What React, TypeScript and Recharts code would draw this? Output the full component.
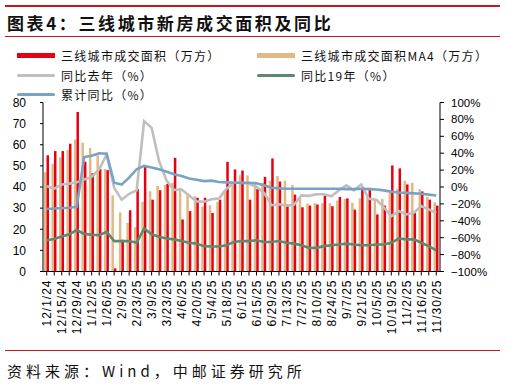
import React from "react";
import { ComposedChart, Bar, Line, XAxis, YAxis } from "recharts";

// weekly dates, 12/1/24 .. 11/30/25
const weeks = [
  "12/1/24", "12/8/24", "12/15/24", "12/22/24", "12/29/24", "1/5/25", "1/12/25", "1/19/25", "1/26/25",
  "2/2/25", "2/9/25", "2/16/25", "2/23/25", "3/2/25", "3/9/25", "3/16/25", "3/23/25", "3/30/25",
  "4/6/25", "4/13/25", "4/20/25", "4/27/25", "5/4/25", "5/11/25", "5/18/25", "5/25/25",
  "6/1/25", "6/8/25", "6/15/25", "6/22/25", "6/29/25", "7/6/25", "7/13/25", "7/20/25", "7/27/25",
  "8/3/25", "8/10/25", "8/17/25", "8/24/25", "8/31/25", "9/7/25", "9/14/25", "9/21/25", "9/28/25",
  "10/5/25", "10/12/25", "10/19/25", "10/26/25", "11/2/25", "11/9/25", "11/16/25", "11/23/25", "11/30/25",
];

// 三线城市成交面积（万方）
const area = [
  55, 57, 57, 60.5, 75.5, 52, 46.5, 48.5, 48, 1.5, 15, 29, 39, 49.5, 34, 38.5, 41.5, 53.8,
  24.6, 28.6, 34.9, 34.9, 27.7, 34, 51.9, 48.3, 47.8, 34, 39, 44.8, 53.5, 42.6, 31.7, 36.4,
  30.4, 31.2, 31.7, 35.9, 30.9, 35.3, 34.6, 29.3, 39, 39.6, 27, 31.2, 50.2, 48.8, 41.2, 27.7,
  37.9, 34, 31.2,
];

// 三线城市成交面积MA4（万方）
const areaMa4 = [
  47, 51, 54, 57.5, 62.5, 61, 58.5, 55, 48.5, 36, 28, 23, 21, 33, 38, 40.5, 41, 42,
  39.6, 37, 35.6, 30.7, 31.4, 33, 37.5, 41.5, 45.6, 45.5, 42.5, 42, 43, 45.2, 43, 41,
  34.8, 32.2, 32.3, 32.4, 32.4, 33.6, 34.4, 32.5, 34.7, 36, 34, 34.3, 37.5, 39, 43, 42,
  39, 35.3, 32.8,
];

// 同比去年（%）
const yoy = [
  1, -2, 3, 4, 5.5, 9, 12, 21, 38.5, -1, -15, -8, -4, 78, 70, 30.5, 7.5, -3.5,
  -3, -10, -17, -17.5, -14.5, -13.5, -2, 5, 5, 3.5, 0.5, -7, -21.5, -20.5, -22, -21,
  -10, -10.5, -8.5, -8.5, -11, -4, 2, -4, 3, -14, -15, -24, -34.5, -28.5, -32.5, -30.5,
  -22.5, -26.5, -30.5,
];

// 同比19年（%）
const vs2019 = [
  -63, -61.5, -58.5, -56, -51, -55.5, -56.5, -57, -53, -64, -64, -64, -66, -49, -56, -59, -61, -62,
  -64, -66, -67, -70, -70.5, -70.5, -69, -65, -64, -64, -63, -65, -65, -64, -66, -67,
  -69, -72, -72, -70, -69, -68, -67, -68, -69, -69, -68, -68, -66, -61, -62, -62,
  -66, -70, -75,
];

// 累计同比（%）
const cumYoy = [
  -26, -25.5, -25, -24.5, -23.5, 35.5, 37, 40, 39.5, 5, 3, 11, 21, 25, 23, 21, 18, 15,
  13, 10, 8.5, 7, 7.5, 6, 5.5, 5, 5, 5, 4.5, 2, -1, -1.5, -2, -2,
  -2, -2, -2, -2, -2, -2, -2.5, -2.5, -2, -2.5, -3, -4, -5.5, -6.5, -7, -7.5,
  -8, -9, -10,
];

const leftTicks = [0, 10, 20, 30, 40, 50, 60, 70, 80];
const rightTicks = [-100, -80, -60, -40, -20, 0, 20, 40, 60, 80, 100];

const data = weeks.map((w, i) => ({
  week: w,
  area: area[i],
  ma4: areaMa4[i],
  yoy: yoy[i],
  vs2019: vs2019[i],
  cum: cumYoy[i],
}));

const RED = "#e60012";
const TAN = "#e1b985";
const GREY = "#bfbfbf";
const GREEN = "#5b8a70";
const BLUE = "#79a3c4";
const LINE_RED = "#c8161d";

const axisFont = "'Liberation Sans', Arial, sans-serif";
const cjkFont = "'Noto Sans CJK SC', 'Noto Sans', sans-serif";

const XTick = (props: any) => {
  const { x, y, payload } = props;
  if (payload.index % 2 !== 0) return null;
  return (
    <text
      transform={`translate(${x + 4.5},${y + 2}) rotate(-90)`}
      textAnchor="end"
      fontSize={12}
      fontFamily={axisFont}
      letterSpacing={1}
      fill="#000"
    >
      {payload.value}
    </text>
  );
};

const pct = (v: number) => (v < 0 ? "\u2212" + Math.abs(v) : String(v)) + "%";

const LegendItem = ({ color, thick, label, left, top }: any) => (
  <div style={{ position: "absolute", left, top, display: "flex", alignItems: "center", height: 16 }}>
    <div style={{ width: 38, height: thick, background: color, borderRadius: thick < 5 ? 2 : 0 }} />
    <span style={{ marginLeft: 6, fontSize: 12, letterSpacing: 1.3, fontFamily: cjkFont, color: "#111", whiteSpace: "nowrap" }}>
      {label}
    </span>
  </div>
);

export default function App() {
  return (
    <div style={{ position: "absolute", left: 0, top: 0, width: 506, height: 385, background: "#fff", overflow: "hidden" }}>
      <div style={{ position: "absolute", left: 5, top: 5, width: 495, height: 2, background: LINE_RED }} />
      <div
        style={{
          position: "absolute", left: 7, top: 11, fontSize: 17, fontWeight: 700, letterSpacing: 2.6,
          fontFamily: cjkFont, color: "#111", whiteSpace: "nowrap", lineHeight: "24px",
        }}
      >
        图表4：三线城市新房成交面积及同比
      </div>
      <div style={{ position: "absolute", left: 5, top: 36, width: 495, height: 1, background: LINE_RED }} />

      <LegendItem color={RED} thick={5} label="三线城市成交面积（万方）" left={17} top={47} />
      <LegendItem color={TAN} thick={5} label="三线城市成交面积MA4（万方）" left={257} top={47} />
      <LegendItem color={GREY} thick={3} label="同比去年（%）" left={17} top={67} />
      <LegendItem color={GREEN} thick={3} label="同比19年（%）" left={257} top={67} />
      <LegendItem color={BLUE} thick={3} label="累计同比（%）" left={17} top={86} />

      <div style={{ position: "absolute", left: 0, top: 0 }}>
        <ComposedChart
          width={506}
          height={345}
          data={data}
          margin={{ top: 102.5, right: 0, bottom: 0, left: 0 }}
          barGap={0}
          barCategoryGap={0}
        >
          <XAxis
            dataKey="week"
            interval={0}
            tick={<XTick />}
            tickSize={4}
            tickMargin={2}
            height={73.5}
            axisLine={{ stroke: "#000" }}
            tickLine={{ stroke: "#000" }}
          />
          <YAxis
            yAxisId="left"
            domain={[0, 80]}
            ticks={leftTicks}
            width={43}
            tickSize={3}
            tickMargin={14}
            interval={0}
            axisLine={{ stroke: "#000" }}
            tickLine={{ stroke: "#000" }}
            tick={{ fill: "#000", fontSize: 12, fontFamily: axisFont }}
          />
          <YAxis
            yAxisId="right"
            orientation="right"
            domain={[-100, 100]}
            ticks={rightTicks}
            width={66}
            tickSize={4}
            tickMargin={7}
            interval={0}
            tickFormatter={pct}
            axisLine={{ stroke: "#000" }}
            tickLine={{ stroke: "#000" }}
            tick={{ fill: "#000", fontSize: 11.5, fontFamily: axisFont }}
          />
          <Bar yAxisId="left" dataKey="ma4" fill={TAN} barSize={2.5} isAnimationActive={false} />
          <Bar yAxisId="left" dataKey="area" fill={RED} barSize={2.5} isAnimationActive={false} />
          <Line yAxisId="right" dataKey="yoy" stroke={GREY} strokeWidth={2.6} dot={false} type="linear" isAnimationActive={false} />
          <Line yAxisId="right" dataKey="vs2019" stroke={GREEN} strokeWidth={2.6} dot={false} type="linear" isAnimationActive={false} />
          <Line yAxisId="right" dataKey="cum" stroke={BLUE} strokeWidth={2.6} dot={false} type="linear" isAnimationActive={false} />
        </ComposedChart>
      </div>

      <div style={{ position: "absolute", left: 5, top: 350, width: 495, height: 1, background: LINE_RED }} />
      <div
        style={{
          position: "absolute", left: 7, top: 360, fontSize: 15, letterSpacing: 4,
          fontFamily: cjkFont, color: "#111", whiteSpace: "nowrap", lineHeight: "22px",
        }}
      >
        资料来源：Wind，中邮证券研究所
      </div>
    </div>
  );
}
